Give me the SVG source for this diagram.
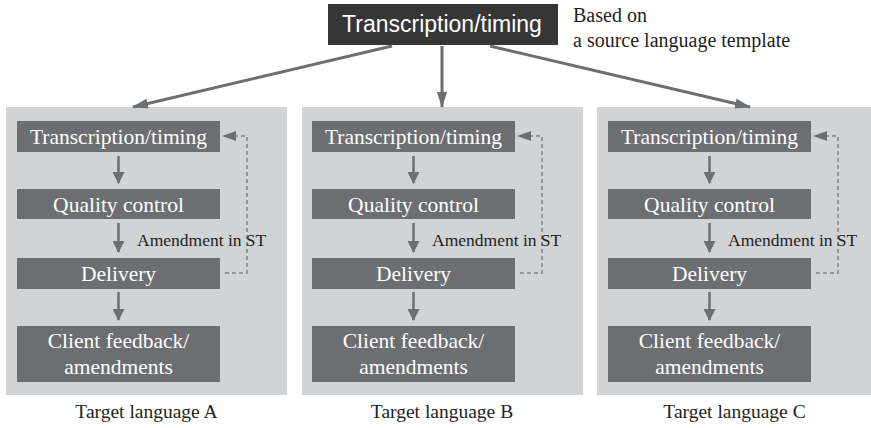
<svg xmlns="http://www.w3.org/2000/svg" width="871" height="428" viewBox="0 0 871 428">
<style>
.panel{fill:#d1d3d4}
.node{fill:#6d6e71}
text{font-family:'Liberation Serif','Times New Roman','DejaVu Serif',serif}
.nt{font-size:21.5px;fill:#ffffff;text-anchor:middle}
.lbl{font-size:19.5px;fill:#231f20;text-anchor:middle}
.amd{font-size:17.5px;fill:#231f20}
.note{font-size:20px;fill:#231f20}
.main{stroke:#6d6e71;stroke-width:3;fill:none}
.step{stroke:#6d6e71;stroke-width:2.5;fill:none}
.dash{stroke:#808285;stroke-width:1.5;fill:none;stroke-dasharray:4 3}
</style>
<defs>
<marker id="big" viewBox="0 0 16 10" refX="15" refY="5" markerWidth="16" markerHeight="10" markerUnits="userSpaceOnUse" orient="auto">
<path d="M0,0 L16,5 L0,10 Z" fill="#6d6e71"/>
</marker>
<marker id="sm" viewBox="0 0 12 12" refX="11" refY="6" markerWidth="12" markerHeight="12" markerUnits="userSpaceOnUse" orient="auto">
<path d="M0,0 L12,6 L0,12 Z" fill="#6d6e71"/>
</marker>
</defs>

<g id="panels">
<rect class="panel" x="6" y="107" width="281" height="288"/>
<rect class="panel" x="302" y="107" width="281" height="288"/>
<rect class="panel" x="597" y="107" width="274" height="288"/>
</g>

<g id="source">
<rect x="328" y="4" width="230" height="41" fill="#363636"/>
<text x="442" y="32" style="font-family:'Liberation Sans',Arial,sans-serif" font-size="23" fill="#ffffff" text-anchor="middle">Transcription/timing</text>
</g>
<text class="note" x="573" y="22">Based on</text>
<text class="note" x="573" y="47">a source language template</text>

<g id="connectors">
<line class="main" x1="392" y1="46" x2="133" y2="107" marker-end="url(#big)"/>
<line class="main" x1="442" y1="46" x2="442" y2="107" marker-end="url(#big)"/>
<line class="main" x1="490" y1="46" x2="750" y2="107" marker-end="url(#big)"/>

<line class="step" x1="118.5" y1="156" x2="118.5" y2="183" marker-end="url(#sm)"/>
<line class="step" x1="118.5" y1="223" x2="118.5" y2="252" marker-end="url(#sm)"/>
<line class="step" x1="118.5" y1="292" x2="118.5" y2="320" marker-end="url(#sm)"/>
<polyline class="dash" points="225,273 247,273 247,136 236,136"/>
<path d="M222,136 L236,131 L236,141 Z" fill="#6d6e71"/>

<line class="step" x1="413.5" y1="156" x2="413.5" y2="183" marker-end="url(#sm)"/>
<line class="step" x1="413.5" y1="223" x2="413.5" y2="252" marker-end="url(#sm)"/>
<line class="step" x1="413.5" y1="292" x2="413.5" y2="320" marker-end="url(#sm)"/>
<polyline class="dash" points="520,273 542,273 542,136 531,136"/>
<path d="M517,136 L531,131 L531,141 Z" fill="#6d6e71"/>

<line class="step" x1="709.5" y1="156" x2="709.5" y2="183" marker-end="url(#sm)"/>
<line class="step" x1="709.5" y1="223" x2="709.5" y2="252" marker-end="url(#sm)"/>
<line class="step" x1="709.5" y1="292" x2="709.5" y2="320" marker-end="url(#sm)"/>
<polyline class="dash" points="816,273 838,273 838,136 827,136"/>
<path d="M813,136 L827,131 L827,141 Z" fill="#6d6e71"/>
</g>

<g id="A-transcription"><rect class="node" x="17" y="121" width="203" height="31"/><text class="nt" x="118.5" y="144">Transcription/timing</text></g>
<g id="A-quality"><rect class="node" x="17" y="189" width="203" height="30"/><text class="nt" x="118.5" y="212">Quality control</text></g>
<g id="A-delivery"><rect class="node" x="17" y="258" width="203" height="31"/><text class="nt" x="118.5" y="281">Delivery</text></g>
<g id="A-client"><rect class="node" x="17" y="326" width="203" height="56"/><text class="nt" x="118.5" y="348">Client feedback/</text><text class="nt" x="118.5" y="374">amendments</text></g>
<text class="amd" x="137" y="246">Amendment in ST</text>
<text class="lbl" x="146.5" y="418">Target language A</text>

<g id="B-transcription"><rect class="node" x="312" y="121" width="203" height="31"/><text class="nt" x="413.5" y="144">Transcription/timing</text></g>
<g id="B-quality"><rect class="node" x="312" y="189" width="203" height="30"/><text class="nt" x="413.5" y="212">Quality control</text></g>
<g id="B-delivery"><rect class="node" x="312" y="258" width="203" height="31"/><text class="nt" x="413.5" y="281">Delivery</text></g>
<g id="B-client"><rect class="node" x="312" y="326" width="203" height="56"/><text class="nt" x="413.5" y="348">Client feedback/</text><text class="nt" x="413.5" y="374">amendments</text></g>
<text class="amd" x="432" y="246">Amendment in ST</text>
<text class="lbl" x="442" y="418">Target language B</text>

<g id="C-transcription"><rect class="node" x="608" y="121" width="203" height="31"/><text class="nt" x="709.5" y="144">Transcription/timing</text></g>
<g id="C-quality"><rect class="node" x="608" y="189" width="203" height="30"/><text class="nt" x="709.5" y="212">Quality control</text></g>
<g id="C-delivery"><rect class="node" x="608" y="258" width="203" height="31"/><text class="nt" x="709.5" y="281">Delivery</text></g>
<g id="C-client"><rect class="node" x="608" y="326" width="203" height="56"/><text class="nt" x="709.5" y="348">Client feedback/</text><text class="nt" x="709.5" y="374">amendments</text></g>
<text class="amd" x="728" y="246">Amendment in ST</text>
<text class="lbl" x="734.5" y="418">Target language C</text>
</svg>
